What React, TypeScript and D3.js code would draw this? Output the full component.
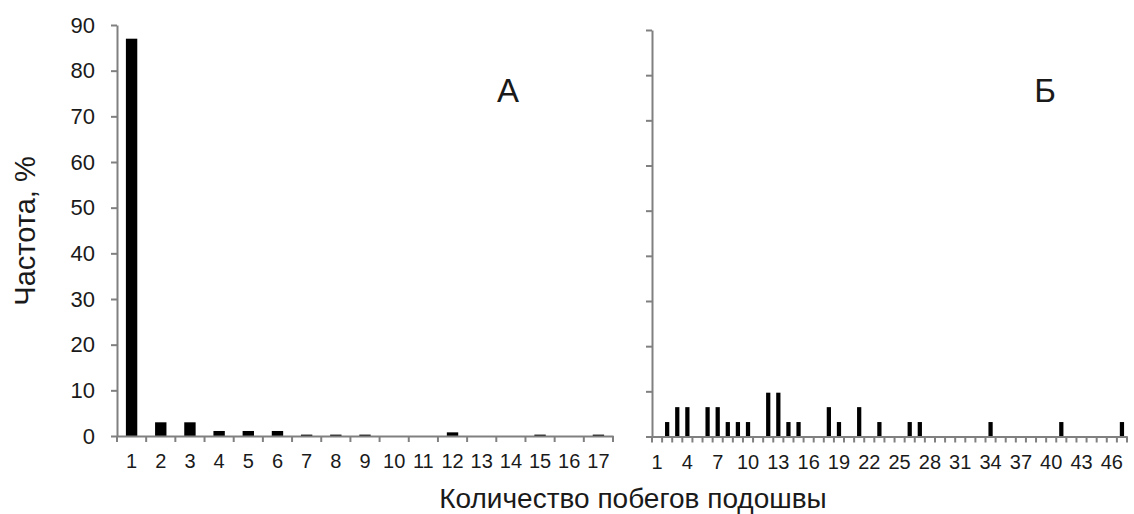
import React, { useEffect, useRef } from "react";
import * as d3 from "d3";

// panel A
const categoriesA = ["1", "2", "3", "4", "5", "6", "7", "8", "9", "10", "11", "12", "13", "14", "15", "16", "17"];
const valuesA = [87, 3, 3, 1.1, 1.1, 1.1, 0.3, 0.3, 0.3, 0, 0, 0.8, 0, 0, 0.3, 0, 0.3];

// panel B
const categoriesB = [
  "1", "2", "3", "4", "5", "6", "7", "8", "9", "10", "11", "12", "13", "14", "15", "16",
  "17", "18", "19", "20", "21", "22", "23", "24", "25", "26", "27", "28", "29", "30", "31", "32",
  "33", "34", "35", "36", "37", "38", "39", "40", "41", "42", "43", "44", "45", "46", "47",
];
const valuesB = [
  0, 3.2, 6.5, 6.5, 0, 6.5, 6.5, 3.2, 3.2, 3.2, 0, 9.7, 9.7, 3.2, 3.2, 0,
  0, 6.5, 3.2, 0, 6.5, 0, 3.2, 0, 0, 3.2, 3.2, 0, 0, 0, 0, 0,
  0, 3.2, 0, 0, 0, 0, 0, 0, 3.2, 0, 0, 0, 0, 0, 3.2,
];
const tickLabelsB = ["1", "4", "7", "10", "13", "16", "19", "22", "25", "28", "31", "34", "37", "40", "43", "46"];

const yTicks = [0, 10, 20, 30, 40, 50, 60, 70, 80, 90];

const FONT = "'Liberation Sans', Arial, sans-serif";
const AXIS = "#808080";
const TEXT = "#1a1a1a";

export default function App() {
  const ref = useRef<SVGSVGElement>(null);

  useEffect(() => {
    const svg = d3.select(ref.current);
    svg.selectAll("*").remove();

    const drawPanel = (
      cats: string[],
      vals: number[],
      left: number,
      right: number,
      top: number,
      bottom: number,
      barFrac: number,
      showY: boolean,
      labels: string[],
      letter: string,
      letterX: number
    ) => {
      const x = d3.scaleBand().domain(cats).range([left, right]).padding(0);
      const y = d3.scaleLinear().domain([0, 90]).range([bottom, top]);
      const g = svg.append("g");

      // bars
      const bw = x.bandwidth() * barFrac;
      g.selectAll("rect")
        .data(vals)
        .enter()
        .append("rect")
        .attr("x", (d, i) => (x(cats[i]) as number) + (x.bandwidth() - bw) / 2)
        .attr("y", (d) => y(d))
        .attr("width", bw)
        .attr("height", (d) => bottom - y(d))
        .attr("fill", "#000");

      // y axis
      const yAxis = d3
        .axisLeft(y)
        .tickValues(yTicks)
        .tickSize(6)
        .tickSizeOuter(0)
        .tickPadding(16)
        .tickFormat(showY ? (d: any) => String(d) : () => "");
      const yg = g.append("g").attr("transform", `translate(${left},0)`).call(yAxis);

      // x axis labels
      const xAxis = d3.axisBottom(x).tickValues(labels).tickSize(0).tickSizeOuter(0).tickPadding(18);
      const xg = g.append("g").attr("transform", `translate(0,${bottom})`).call(xAxis);

      // boundary ticks
      const bounds = cats.map((c) => x(c) as number).concat([right]);
      g.selectAll("line.bt")
        .data(bounds)
        .enter()
        .append("line")
        .attr("class", "bt")
        .attr("x1", (d) => d)
        .attr("x2", (d) => d)
        .attr("y1", bottom)
        .attr("y2", bottom + 6)
        .attr("stroke", AXIS)
        .attr("stroke-width", 2);

      [yg, xg].forEach((a) => {
        a.selectAll("path").attr("stroke", AXIS).attr("stroke-width", 2);
        a.selectAll("line").attr("stroke", AXIS).attr("stroke-width", 2);
        a.selectAll("text").attr("fill", TEXT).style("font-family", FONT).style("font-size", "20px");
      });
      yg.selectAll("text").style("font-size", "22px");

      g.append("text")
        .attr("x", letterX)
        .attr("y", 102)
        .attr("text-anchor", "middle")
        .attr("fill", TEXT)
        .style("font-family", FONT)
        .style("font-size", "33px")
        .text(letter);
    };

    drawPanel(categoriesA, valuesA, 117, 613, 25, 436, 0.39, true, categoriesA, "А", 508);
    drawPanel(categoriesB, valuesB, 652, 1127, 30, 436.5, 0.42, false, tickLabelsB, "Б", 1045);

    svg.append("text")
      .attr("x", 633)
      .attr("y", 508)
      .attr("text-anchor", "middle")
      .attr("fill", TEXT)
      .style("font-family", FONT)
      .style("font-size", "28px")
      .text("Количество побегов подошвы");

    svg.append("text")
      .attr("transform", "translate(35,231) rotate(-90)")
      .attr("text-anchor", "middle")
      .attr("fill", TEXT)
      .style("font-family", FONT)
      .style("font-size", "29px")
      .text("Частота, %");
  }, []);

  return (
    <svg
      ref={ref}
      width={1134}
      height={514}
      style={{ position: "absolute", left: 0, top: 0, background: "#fff" }}
    />
  );
}
